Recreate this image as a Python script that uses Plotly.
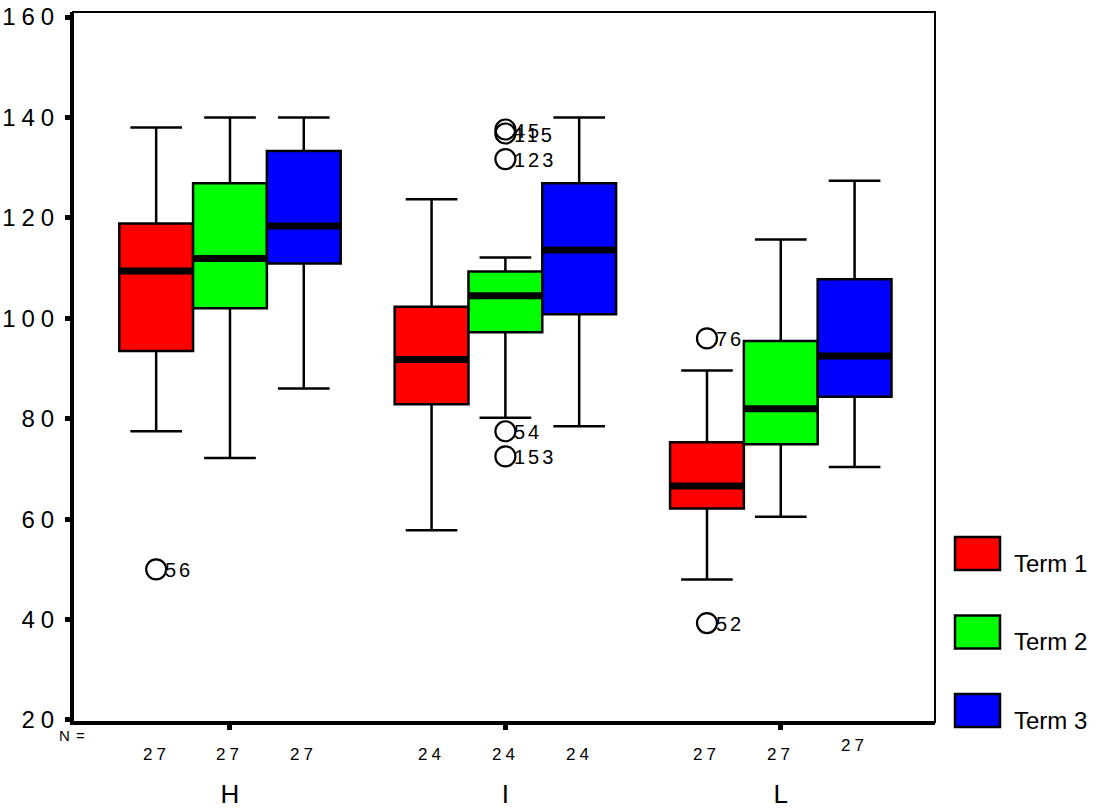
import plotly.graph_objects as go

# ---------------- data ----------------
categories = ["H", "I", "L"]
terms = ["Term 1", "Term 2", "Term 3"]
colors = ["#FF0000", "#00FF00", "#0000FF"]

# per term: values for H, I, L
q1_vals = [[93.5, 82.9, 62.1], [102.0, 97.2, 74.9], [110.9, 100.8, 84.4]]
median_vals = [[109.4, 91.8, 66.6], [111.9, 104.5, 82.0], [118.4, 113.6, 92.5]]
q3_vals = [[118.9, 102.3, 75.3], [126.9, 109.3, 95.5], [133.3, 126.9, 107.8]]
low_whisker = [[77.5, 57.8, 48.0], [72.2, 80.2, 60.5], [86.0, 78.5, 70.4]]
high_whisker = [[138.0, 123.7, 89.6], [140.0, 112.1, 115.7], [140.0, 140.0, 127.4]]
n_counts = [[27, 24, 27], [27, 24, 27], [27, 24, 27]]

# outliers
out_cat = ["H", "I", "I", "I", "I", "I", "L", "L"]
out_term = [0, 1, 1, 1, 1, 1, 0, 0]
out_val = [50.0, 137.6, 136.8, 131.7, 77.5, 72.5, 96.0, 39.3]
out_id = ["56", "45", "115", "123", "54", "153", "76", "52"]

y_ticks = [20, 40, 60, 80, 100, 120, 140, 160]

# ---------------- layout constants ----------------
BOX_W = 0.268
FONT = "Arial, Liberation Sans, sans-serif"
W, H = 1116, 811
PLOT_L, PLOT_R, PLOT_T, PLOT_B = 73, 935, 12, 722   # target pixels
L_M, T_M = PLOT_L, PLOT_T
PW, PH = PLOT_R - PLOT_L, PLOT_B - PLOT_T
R_M = W - L_M - PW
B_M = H - T_M - PH


def pos(ci, ti):
    return ci + (ti - 1) * BOX_W


def spaced(s, px):
    return f'<span style="letter-spacing:{px}px">{s}</span>'


def px_x(px):
    return (px - PLOT_L) / PW


def px_y(py):
    return (PLOT_B - py) / PH


fig = go.Figure()

shapes = []
annotations = []

for ti, term in enumerate(terms):
    xs = [pos(ci, ti) for ci in range(len(categories))]
    fig.add_trace(go.Box(
        x=xs,
        q1=q1_vals[ti], median=median_vals[ti], q3=q3_vals[ti],
        lowerfence=low_whisker[ti], upperfence=high_whisker[ti],
        width=BOX_W, whiskerwidth=0.7,
        fillcolor=colors[ti],
        line=dict(color="black", width=2.5),
        boxpoints=False, name=term, showlegend=False,
        hoverinfo="skip",
    ))
    for ci, x in enumerate(xs):
        shapes.append(dict(type="line", xref="x", yref="y",
                           x0=x - BOX_W / 2, x1=x + BOX_W / 2,
                           y0=median_vals[ti][ci], y1=median_vals[ti][ci],
                           line=dict(color="black", width=7)))
        last = (ci == len(categories) - 1 and ti == len(terms) - 1)
        annotations.append(dict(
            x=x, xref="x", y=0, yref="paper",
            text=spaced(str(n_counts[ti][ci]), 4),
            showarrow=False, yanchor="middle",
            yshift=-23 if last else -32,
            font=dict(family=FONT, size=17, color="black")))

# outliers
ox = [pos(categories.index(c), t) for c, t in zip(out_cat, out_term)]
fig.add_trace(go.Scatter(
    x=ox, y=out_val, mode="markers",
    marker=dict(symbol="circle-open", size=20, color="black",
                line=dict(width=2.2, color="black")),
    showlegend=False, hoverinfo="skip", cliponaxis=False,
))
for x, v, s in zip(ox, out_val, out_id):
    annotations.append(dict(x=x, y=v, xref="x", yref="y", xanchor="left",
                            yanchor="middle", xshift=7, yshift=-1, showarrow=False,
                            text=spaced(s, 3),
                            font=dict(family=FONT, size=20, color="black")))

# N = label
annotations.append(dict(x=px_x(88), xref="paper", y=px_y(735), yref="paper",
                        xanchor="right", yanchor="middle",
                        text=spaced("N =", 1), showarrow=False,
                        font=dict(family=FONT, size=15, color="black")))

# frame
shapes.append(dict(type="rect", xref="paper", yref="paper", x0=0, x1=1, y0=0, y1=1,
                   line=dict(color="black", width=2), layer="above"))

# manual legend
for ti, term in enumerate(terms):
    top_px = 537 + ti * 78.5
    shapes.append(dict(type="rect", xref="paper", yref="paper",
                       x0=px_x(955), x1=px_x(1000),
                       y0=px_y(top_px + 33), y1=px_y(top_px),
                       fillcolor=colors[ti], line=dict(color="black", width=2.5)))
    annotations.append(dict(x=px_x(1012), xref="paper",
                            y=px_y(top_px + 26), yref="paper",
                            xanchor="left", yanchor="middle", showarrow=False,
                            text=term, font=dict(family=FONT, size=24, color="black")))

fig.update_layout(
    width=W, height=H,
    margin=dict(l=L_M, r=R_M, t=T_M, b=B_M, autoexpand=False),
    paper_bgcolor="white", plot_bgcolor="white",
    showlegend=False,
    shapes=shapes, annotations=annotations,
    font=dict(family=FONT, color="black"),
)
fig.update_xaxes(
    range=[-0.57, 2.56], tickvals=list(range(len(categories))), ticktext=categories,
    showline=True, linewidth=3, linecolor="black", showgrid=False, zeroline=False,
    ticks="outside", ticklen=5, tickwidth=5, tickcolor="black", automargin=False,
    ticklabelstandoff=42, tickfont=dict(family=FONT, size=26, color="black"),
)
fig.update_yaxes(
    range=[19.6, 161], tickvals=y_ticks, ticktext=[spaced(str(v), 6) for v in y_ticks],
    showline=True, linewidth=3, linecolor="black", showgrid=False, zeroline=False,
    ticks="outside", ticklen=5, tickwidth=5, tickcolor="black", automargin=False,
    ticklabelstandoff=0, tickfont=dict(family=FONT, size=24, color="black"),
)

fig.write_html("out.html", config={"displayModeBar": False},
               post_script="document.body.style.margin='0';document.body.style.overflow='hidden';")
